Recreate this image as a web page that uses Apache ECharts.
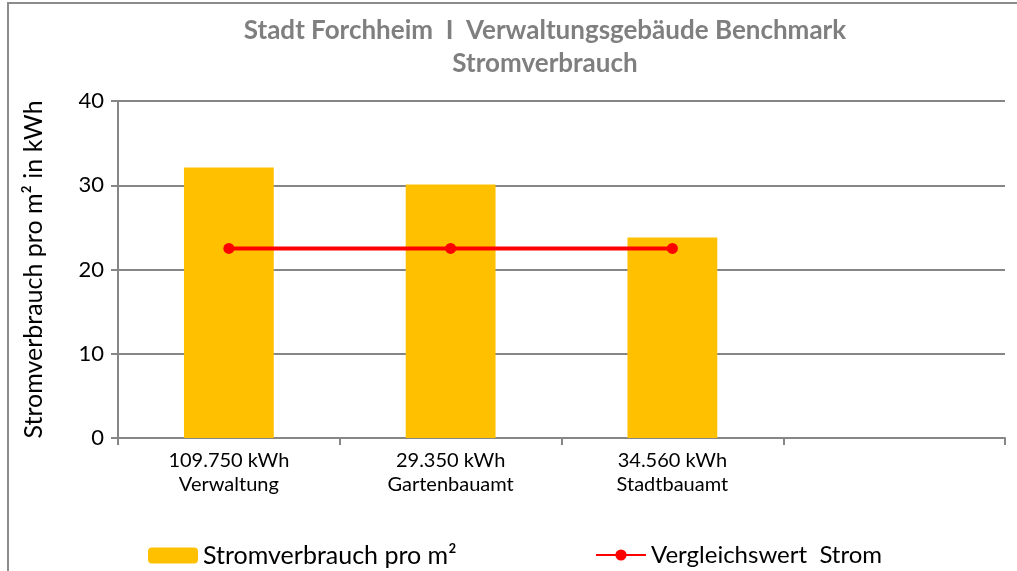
<!DOCTYPE html>
<html>
<head>
<meta charset="utf-8">
<script src="https://cdn.jsdelivr.net/npm/echarts@6/dist/echarts.min.js"></script>
<style>
  html, body { margin: 0; padding: 0; background: #fff; }
  #chart { width: 1017px; height: 571px; }
</style>
</head>
<body>
<div id="chart"></div>
<script>
// Daten
var categories = ['109.750 kWh\nVerwaltung', '29.350 kWh\nGartenbauamt', '34.560 kWh\nStadtbauamt', ''];
var stromProM2 = [32.1, 30.1, 23.8, '-'];
var vergleichswert = [22.5, 22.5, 22.5, '-'];
var yTicks = [0, 10, 20, 30, 40];

var font = 'Lato, "Open Sans", sans-serif';
var chart = echarts.init(document.getElementById('chart'));

var option = {
  backgroundColor: '#fff',
  textStyle: { fontFamily: font },
  graphic: [
    {
      type: 'rect',
      shape: { x: 8, y: 3, width: 1020, height: 580 },
      style: { fill: 'none', stroke: '#8c8c8c', lineWidth: 2 },
      silent: true
    }
  ],
  title: {
    text: 'Stadt Forchheim  I  Verwaltungsgebäude Benchmark\nStromverbrauch',
    left: 540,
    textAlign: 'center',
    top: 9,
    textStyle: {
      fontFamily: font,
      fontSize: 26,
      fontWeight: 'bold',
      color: '#7f7f7f',
      lineHeight: 33
    }
  },
  legend: [
    {
      data: ['Stromverbrauch pro m²'],
      left: 143,
      top: 538,
      itemWidth: 50,
      itemHeight: 16,
      textStyle: { fontFamily: font, fontSize: 25, color: '#000' }
    },
    {
      data: ['Vergleichswert  Strom'],
      left: 590,
      top: 538,
      itemWidth: 50,
      itemHeight: 14,
      textStyle: { fontFamily: font, fontSize: 24, color: '#000' }
    }
  ],
  grid: {
    left: 118,
    right: 12,
    top: 101,
    bottom: 133,
    containLabel: false
  },
  xAxis: {
    type: 'category',
    data: categories,
    boundaryGap: true,
    axisLine: { show: true, lineStyle: { color: '#868686', width: 2 } },
    axisTick: { show: true, interval: 0, length: 7, lineStyle: { color: '#868686', width: 2 } },
    axisLabel: {
      interval: 0,
      margin: 11,
      fontFamily: font,
      fontSize: 20,
      color: '#000',
      lineHeight: 24
    },
    splitLine: { show: false }
  },
  yAxis: {
    type: 'value',
    min: yTicks[0],
    max: yTicks[yTicks.length - 1],
    interval: 10,
    name: 'Stromverbrauch pro m² in kWh',
    nameLocation: 'middle',
    nameGap: 72,
    nameRotate: 90,
    nameTextStyle: { fontFamily: font, fontSize: 25, color: '#000' },
    axisLine: { show: true, lineStyle: { color: '#868686', width: 2 } },
    axisTick: { show: true, length: 7, lineStyle: { color: '#868686', width: 2 } },
    axisLabel: { margin: 14, fontFamily: font, fontSize: 22, color: '#000' },
    splitLine: { show: true, lineStyle: { color: '#868686', width: 2 } }
  },
  series: [
    {
      name: 'Stromverbrauch pro m²',
      type: 'bar',
      data: stromProM2,
      barWidth: '40.5%',
      itemStyle: { color: '#FFC000' },
      z: 2
    },
    {
      name: 'Vergleichswert  Strom',
      type: 'line',
      data: vergleichswert,
      symbol: 'circle',
      symbolSize: 11,
      lineStyle: { color: '#FF0000', width: 4 },
      itemStyle: { color: '#FF0000' },
      z: 3
    }
  ]
};
chart.setOption(option);
</script>
</body>
</html>
